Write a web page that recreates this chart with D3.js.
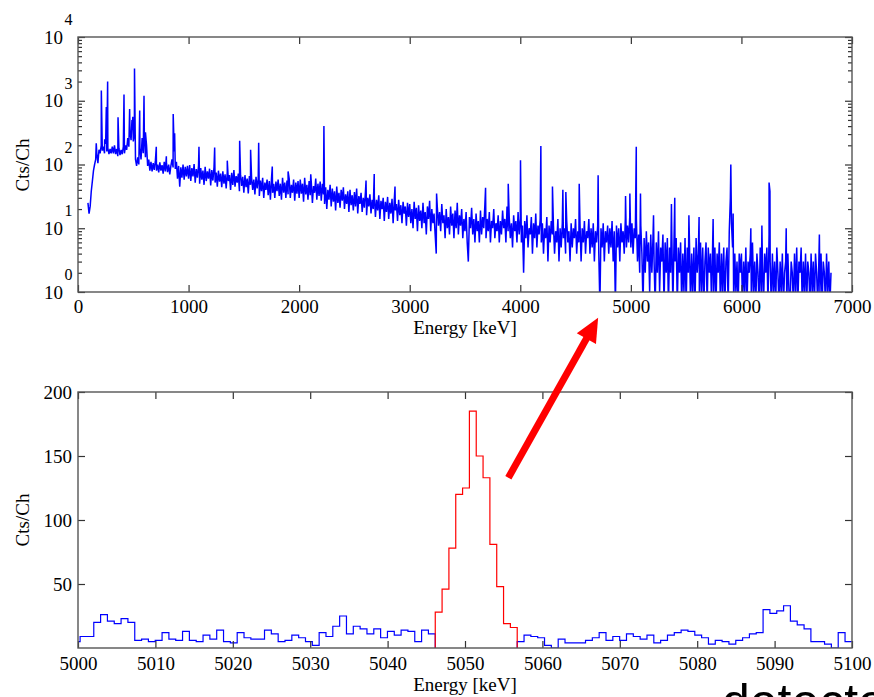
<!DOCTYPE html>
<html><head><meta charset="utf-8">
<script src="https://cdn.jsdelivr.net/npm/d3@7"></script>
<style>
body{margin:0;background:#fff}
svg{display:block}
text{font-family:"Liberation Serif","Times New Roman",serif;fill:#000}
</style>
</head><body>
<svg id="c" width="874" height="697"></svg>
<script>
// ---------------- DATA ----------------
// Full spectrum (top panel): counts per channel sampled every 10 keV, segments starting at segStart
const segStart = [90, 1000, 2000, 3000, 4000, 5000, 6000];
const segStep = 10;
const specA = [25,17,22,38,55,80,100,120,150,105,170,150,200,165,190,150,210,160,180,145,
  175,150,190,150,200,145,175,135,180,140,170,145,190,150,200,170,260,190,330,240,
  380,230,300,120,95,130,100,180,120,260,150,280,130,200,95,120,80,110,78,105,
  82,115,80,100,75,108,80,98,72,110,78,105,76,100,70,95,120,90,160,85,
  110,60,95,45,90,62,100,58,92,65,95];
const specB = [60,98,55,88,65,102,52,85,62,95, 50,88,58,80,48,92,55,78,60,86,
  47,82,56,90,52,75,45,80,54,72, 44,78,50,70,42,76,55,68,40,74,
  48,82,45,66,52,72,38,70,46,64, 36,68,44,60,35,66,48,62,40,58,
  34,64,42,60,32,56,38,62,30,52, 40,58,33,55,28,60,36,50,30,54,
  38,58,32,50,28,62,36,52,30,56, 34,60,30,48,36,58,27,52,35,55];
const specC = [30,58,35,50,26,62,34,48,28,55, 33,52,25,46,36,60,28,50,32,54,
  27,50,34,24,44,20,40,28,48,22, 42,26,38,19,45,25,36,21,40,27,
  44,20,34,24,38,18,40,23,33,19, 37,22,42,17,32,24,36,18,30,21,
  38,16,30,22,34,17,28,20,32,15, 28,19,33,14,27,20,30,13,26,18,
  31,14,25,17,29,12,27,19,24,13, 28,16,23,12,26,17,22,11,25,15];
const specD = [24,12,20,10,26,14,21,9,23,13, 19,10,25,12,18,8,22,14,27,9,
  20,12,17,8,4,21,11,18,9,24, 12,16,7,20,10,15,8,22,11,17,
  7,19,10,25,8,16,11,20,7,14, 9,18,6,3,15,10,21,8,14,6,
  17,9,13,6,19,8,15,10,24,7, 14,9,18,6,13,10,20,7,12,9,
  16,6,13,8,19,10,14,6,22,9, 15,7,12,5,16,9,13,6,18,8];
const specE = [14,6,11,2,13,7,16,5,10,8, 15,4,12,7,17,5,11,8,14,6,
  12,4,10,7,15,3,11,6,13,8, 11,4,9,6,14,3,10,5,12,7,
  10,4,13,6,9,3,12,5,10,7, 14,4,9,6,12,3,10,6,13,4,
  9,7,14,4,10,5,12,3,9,6, 11,4,0,10,5,12,3,9,6,11,
  4,10,5,13,3,9,0,11,5,10, 3,12,6,9,4,14,5,11,6,15];
const specF = [5,12,4,10,7,14,3,8,2,11, 4,0,7,2,9,3,6,1,8,2,
  7,3,0,6,2,9,1,5,3,8, 0,6,2,7,0,5,2,9,0,6,
  3,7,0,5,2,6,0,4,1,7, 0,5,2,6,0,4,1,5,0,7,
  2,4,0,6,1,5,0,3,6,0, 5,2,4,0,6,1,5,0,4,2,
  6,0,4,1,5,0,3,5,0,9, 30,12,5,0,4,1,3,0,4,2];
const specG = [4,0,3,1,5,0,3,2,4,0, 6,1,3,0,4,2,0,5,1,3,
  0,4,2,5,0,8,3,0,4,1, 3,0,5,2,0,3,1,4,0,2,
  3,0,4,1,0,3,2,0,4,1, 5,0,3,2,5,0,3,1,4,0,
  3,2,0,4,1,3,0,4,2,0, 3,1,4,0,3,2,0,4,1,3, 0,2];
// Narrow gamma lines (keV, counts at peak)
const peakE = [165,211,241,256,268,362,416,467,488,496,511,558,597,610,708,799,861,874,
  1094,1236,1350,1462,1561,1634,1757,1900,2105,2224,2605,2679,2867,3243,3686,3891,4002,4186,
  4291,4385,4412,4533,4704,4952,4991,5049,5087,5205,5367,5397,5525,5617,5744,5904,5925,
  6085,6185,6250,6258,6405,6705];
const peakH = [215,1450,250,800,2000,550,1250,740,500,560,3200,700,1200,320,190,135,620,310,
  190,185,115,235,170,220,93,78,70,400,56,71,45,35,43,50,117,195,
  45,40,37,50,68,32,35,190,35,16,24,30,16,15,14,100,17,
  10,11,52,38,10,8];
const topXTicks = [0,1000,2000,3000,4000,5000,6000,7000];
const topYExps = [0,1,2,3,4];

// Zoomed histogram (bottom panel)
const zoomBinStart = 4999.39;
const zoomBinWidth = 0.8824;
const zoomCounts = [5,9,9,
  20,26,21,19,23,20,6,7,5,6,12,7,6,13,6,5,10,7,14,5,4,12,8,7,7,14,11,5,6,10,8,5,2,12,9,17,25,11,17,15,11,15,8,13,10,14,13,5,14,11,
  28,46,78,120,125,185,150,133,81,48,19,16,
  5,10,9,8,2,0,7,4,4,4,6,8,12,6,9,6,11,9,7,10,4,6,10,12,14,13,10,8,3,6,5,3,6,8,11,12,30,27,29,33,21,18,15,5,5,3,0,12,5];
const peakFirst = 53, peakLast = 64;
const botXTicks = [5000,5010,5020,5030,5040,5050,5060,5070,5080,5090,5100];
const botYTicks = [50,100,150,200];
// arrow annotation, in bottom-panel data units [keV, counts]
const arrowFrom = [5055.6, 133];
const arrowTo = [5067.2, 258];

// ---------------- DRAW ----------------
const svg = d3.select('#c');
const T = {l:78, r:852, t:37, b:292};
const B = {l:78, r:852, t:392, b:648};
const xT = d3.scaleLinear().domain([0,7000]).range([T.l,T.r]);
const yT = d3.scaleLog().domain([1,1e4]).range([T.b,T.t]);
const xB = d3.scaleLinear().domain([5000,5100]).range([B.l,B.r]);
const yB = d3.scaleLinear().domain([0,200]).range([B.b,B.t]);

const defs = svg.append('defs');
defs.append('clipPath').attr('id','clipT').append('rect')
  .attr('x',T.l).attr('y',T.t).attr('width',T.r-T.l).attr('height',T.b-T.t);
defs.append('clipPath').attr('id','clipB').append('rect')
  .attr('x',B.l).attr('y',B.t-2).attr('width',B.r-B.l).attr('height',B.b-B.t+2);

// --- top spectrum
const pts = [];
[specA,specB,specC,specD,specE,specF,specG].forEach((arr,i)=>
  arr.forEach((v,j)=>pts.push([segStart[i]+j*segStep, v])));
peakE.forEach((e,i)=>pts.push([e, peakH[i]]));
pts.sort((a,b)=>a[0]-b[0]);
const lineT = d3.line().x(d=>xT(d[0])).y(d=>yT(Math.max(d[1],0.6)));
svg.append('path').attr('clip-path','url(#clipT)')
  .attr('d', lineT(pts)).attr('fill','none').attr('stroke','#0000ff')
  .attr('stroke-width',1.5).attr('stroke-linejoin','bevel');

// frame + axes (top)
function styleAxis(g){
  g.select('.domain').remove();
  g.selectAll('.tick line').attr('stroke','#333').attr('stroke-width',1.2);
  g.selectAll('.tick text').attr('font-family','Liberation Serif, Times New Roman, serif')
    .attr('font-size',19).attr('fill','#000');
}
svg.append('g').attr('transform',`translate(0,${T.b})`)
  .call(d3.axisBottom(xT).tickValues(topXTicks).tickSize(-7).tickPadding(8).tickFormat(d3.format('d'))).call(styleAxis);
svg.append('g').attr('transform',`translate(0,${T.t})`)
  .call(d3.axisTop(xT).tickValues(topXTicks).tickSize(-7).tickFormat('')).call(styleAxis);
const majT = topYExps.map(e=>Math.pow(10,e));
const minT = [];
for (let e=0;e<4;e++) for (let m=2;m<=9;m++) minT.push(m*Math.pow(10,e));
svg.append('g').attr('transform',`translate(${T.l},0)`)
  .call(d3.axisLeft(yT).tickValues(majT).tickSize(-7).tickFormat('')).call(styleAxis);
svg.append('g').attr('transform',`translate(${T.l},0)`)
  .call(d3.axisLeft(yT).tickValues(minT).tickSize(-4).tickFormat('')).call(styleAxis);
svg.append('g').attr('transform',`translate(${T.r},0)`)
  .call(d3.axisRight(yT).tickValues(majT).tickSize(-7).tickFormat('')).call(styleAxis);
svg.append('g').attr('transform',`translate(${T.r},0)`)
  .call(d3.axisRight(yT).tickValues(minT).tickSize(-4).tickFormat('')).call(styleAxis);
svg.append('rect').attr('x',T.l).attr('y',T.t).attr('width',T.r-T.l).attr('height',T.b-T.t)
  .attr('fill','none').attr('stroke','#555').attr('stroke-width',1.4);

// log labels 10^n
topYExps.forEach(e=>{
  const yy = yT(Math.pow(10,e));
  svg.append('text').attr('x',63).attr('y',yy+6.5).attr('text-anchor','end')
    .attr('font-size',19).text('10');
  svg.append('text').attr('x',64.5).attr('y',yy-12).attr('text-anchor','start')
    .attr('font-size',16).text(String(e));
});
svg.append('text').attr('transform','translate(29,165) rotate(-90)').attr('text-anchor','middle')
  .attr('font-size',19).text('Cts/Ch');
svg.append('text').attr('x',(T.l+T.r)/2).attr('y',334).attr('text-anchor','middle')
  .attr('font-size',19).text('Energy [keV]');

// --- bottom histogram
const edge = i => zoomBinStart + i*zoomBinWidth;
function stepPts(i0,i1,closeStart,closeEnd){
  const p=[];
  if(closeStart) p.push([edge(i0),0]);
  for(let i=i0;i<=i1;i++) p.push([edge(i), zoomCounts[i]]);
  p.push([edge(i1+1), zoomCounts[i1]]);
  if(closeEnd) p.push([edge(i1+1),0]);
  return p;
}
const lineB = d3.line().x(d=>xB(d[0])).y(d=>yB(d[1])).curve(d3.curveStepAfter);
const gB = svg.append('g').attr('clip-path','url(#clipB)');
gB.append('path').attr('d', lineB(stepPts(0,peakFirst-1,false,true)))
  .attr('fill','none').attr('stroke','#0000ff').attr('stroke-width',1.2);
gB.append('path').attr('d', lineB(stepPts(peakLast+1,zoomCounts.length-1,true,false)))
  .attr('fill','none').attr('stroke','#0000ff').attr('stroke-width',1.2);
gB.append('path').attr('d', lineB(stepPts(peakFirst,peakLast,true,true)))
  .attr('fill','none').attr('stroke','#ff0000').attr('stroke-width',1.2);

svg.append('g').attr('transform',`translate(0,${B.b})`)
  .call(d3.axisBottom(xB).tickValues(botXTicks).tickSize(-7).tickPadding(8.5).tickFormat(d3.format('d'))).call(styleAxis);
svg.append('g').attr('transform',`translate(0,${B.t})`)
  .call(d3.axisTop(xB).tickValues(botXTicks).tickSize(-7).tickFormat('')).call(styleAxis);
svg.append('g').attr('transform',`translate(${B.l},0)`)
  .call(d3.axisLeft(yB).tickValues(botYTicks).tickSize(-7).tickPadding(6).tickFormat(d3.format('d'))).call(styleAxis);
svg.append('g').attr('transform',`translate(${B.r},0)`)
  .call(d3.axisRight(yB).tickValues(botYTicks).tickSize(-7).tickFormat('')).call(styleAxis);
svg.append('rect').attr('x',B.l).attr('y',B.t).attr('width',B.r-B.l).attr('height',B.b-B.t)
  .attr('fill','none').attr('stroke','#555').attr('stroke-width',1.4);
svg.append('text').attr('transform',`translate(29,${(B.t+B.b)/2}) rotate(-90)`).attr('text-anchor','middle')
  .attr('font-size',19).text('Cts/Ch');
svg.append('text').attr('x',(B.l+B.r)/2).attr('y',691).attr('text-anchor','middle')
  .attr('font-size',19).text('Energy [keV]');

// --- red arrow
const ax0 = xB(arrowFrom[0]), ay0 = yB(arrowFrom[1]);
const ax1 = xB(arrowTo[0]), ay1 = yB(arrowTo[1]);
const ang = Math.atan2(ay1-ay0, ax1-ax0);
const headL = 24, headW = 11;
const bx = ax1 - headL*Math.cos(ang), by = ay1 - headL*Math.sin(ang);
svg.append('line').attr('x1',ax0).attr('y1',ay0).attr('x2',bx+2*Math.cos(ang)).attr('y2',by+2*Math.sin(ang))
  .attr('stroke','#ff0000').attr('stroke-width',7);
svg.append('path').attr('fill','#ff0000').attr('d',
  `M${ax1},${ay1}L${bx - headW*Math.sin(ang)},${by + headW*Math.cos(ang)}L${bx + headW*Math.sin(ang)},${by - headW*Math.cos(ang)}Z`);

// --- caption fragment at the bottom right (cropped in the reference too)
svg.append('text').attr('x',722).attr('y',719)
  .style('font-family','"Liberation Sans", Arial, sans-serif').attr('font-size',50).text('detecto');
</script>
</body></html>
